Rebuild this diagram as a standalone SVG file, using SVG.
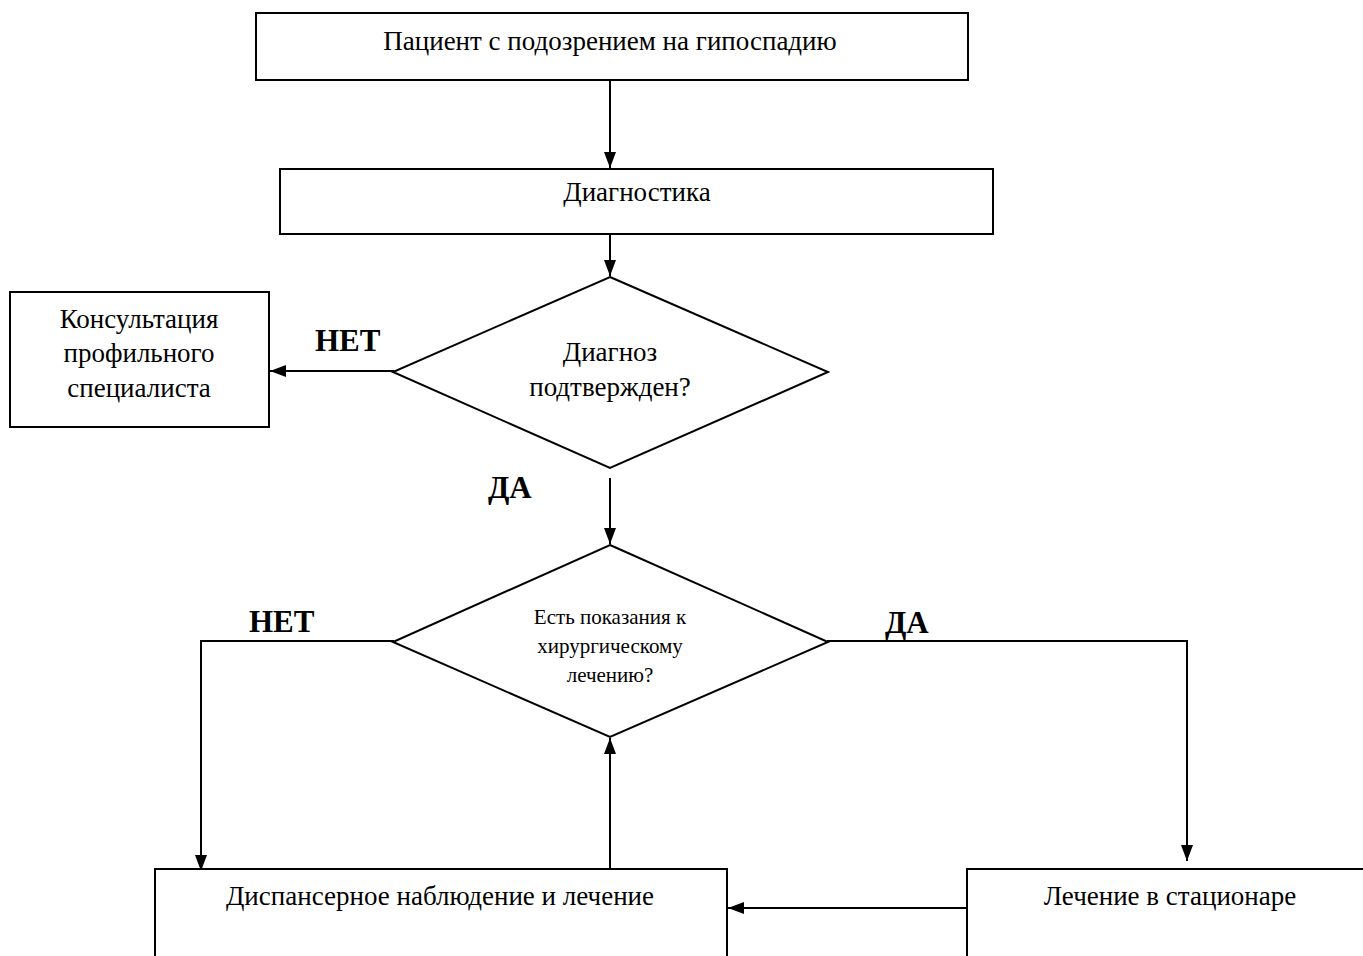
<svg xmlns="http://www.w3.org/2000/svg" width="1363" height="956" viewBox="0 0 1363 956">
<style>
.box{fill:#fff;stroke:#000;stroke-width:2}
.t{font-family:"Liberation Serif","Times New Roman",serif;font-size:27px;fill:#000;text-anchor:middle}
.ts{font-family:"Liberation Serif","Times New Roman",serif;font-size:21px;fill:#000;text-anchor:middle}
.lbl{font-family:"Liberation Serif","Times New Roman",serif;font-size:31px;font-weight:bold;fill:#000}
.c{fill:none;stroke:#000;stroke-width:2}
</style>
<defs>
<marker id="ah" markerUnits="userSpaceOnUse" markerWidth="16" markerHeight="12" refX="16" refY="6" orient="auto">
<path d="M0,0 L16,6 L0,12 z" fill="#000"/>
</marker>
</defs>
<rect width="1363" height="956" fill="#fff"/>
<g id="connectors">
<path class="c" d="M610,80 V168" marker-end="url(#ah)"/>
<path class="c" d="M610,234 V276" marker-end="url(#ah)"/>
<path class="c" d="M394,371 H270" marker-end="url(#ah)"/>
<path class="c" d="M610,478 V544" marker-end="url(#ah)"/>
<path class="c" d="M394,641 H201 V871" marker-end="url(#ah)"/>
<path class="c" d="M827,641 H1187 V861" marker-end="url(#ah)"/>
<path class="c" d="M610,869 V738" marker-end="url(#ah)"/>
<path class="c" d="M967,908 H728" marker-end="url(#ah)"/>
<text class="lbl" x="315" y="351">НЕТ</text>
<text class="lbl" x="488" y="498">ДА</text>
<text class="lbl" x="249" y="632">НЕТ</text>
<text class="lbl" x="885" y="633">ДА</text>
</g>
<g id="n1">
<rect class="box" x="256" y="13" width="712" height="67"/>
<text class="t" x="610" y="50">Пациент с подозрением на гипоспадию</text>
</g>
<g id="n2">
<rect class="box" x="280" y="169" width="713" height="65"/>
<text class="t" x="637" y="201">Диагностика</text>
</g>
<g id="n3">
<polygon class="box" points="610,277 828,372 610,468 393,372"/>
<text class="t" x="610" y="361">Диагноз</text>
<text class="t" x="610" y="396">подтвержден?</text>
</g>
<g id="n4">
<rect class="box" x="10" y="292" width="259" height="135"/>
<text class="t" x="139" y="328">Консультация</text>
<text class="t" x="139" y="362">профильного</text>
<text class="t" x="139" y="397">специалиста</text>
</g>
<g id="n5">
<polygon class="box" points="610,545 828,642 610,737 393,642"/>
<text class="ts" x="610" y="624">Есть показания к</text>
<text class="ts" x="610" y="653">хирургическому</text>
<text class="ts" x="610" y="682">лечению?</text>
</g>
<g id="n6">
<rect class="box" x="155" y="869" width="572" height="120"/>
<text class="t" x="440" y="905">Диспансерное наблюдение и лечение</text>
</g>
<g id="n7">
<rect class="box" x="967" y="869" width="410" height="120"/>
<text class="t" x="1170" y="905">Лечение в стационаре</text>
</g>
</svg>
